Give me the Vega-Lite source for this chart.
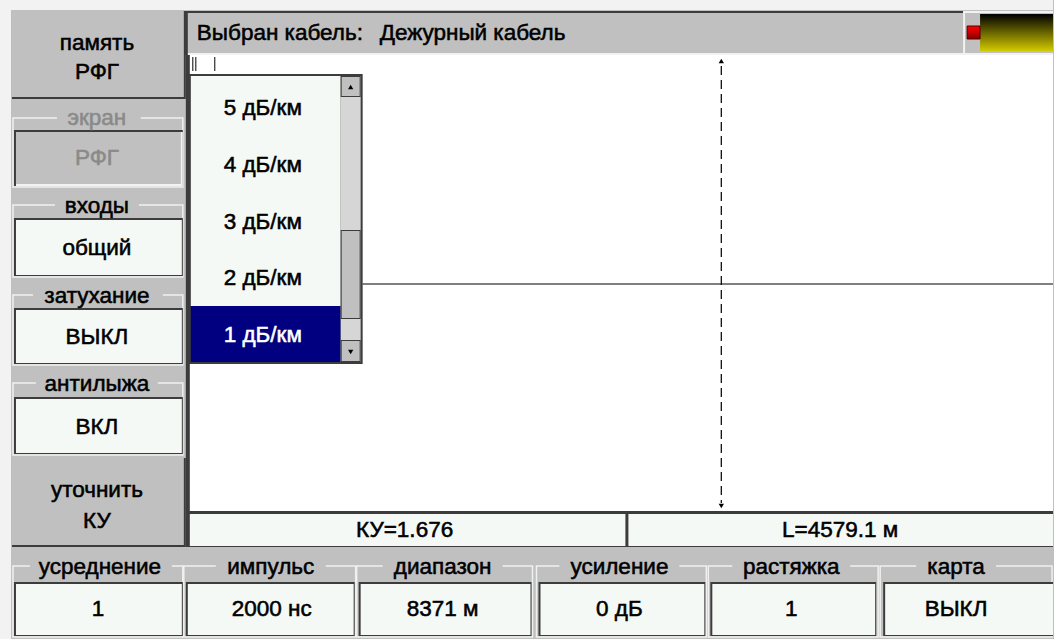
{
  "$schema": "https://vega.github.io/schema/vega-lite/v6.json",
  "width": 1054,
  "height": 639,
  "autosize": {"type": "fit", "contains": "padding"},
  "padding": 0,
  "background": "#c0c0c0",
  "config": {"view": {"stroke": null}},
  "resolve": {"scale": {"color": "independent", "stroke": "independent"}},
  "datasets": {
    "base": [
      {"x": 0, "x2": 1054, "y": 0, "y2": 10, "k": "light"},
      {"x": 0, "x2": 11, "y": 0, "y2": 639, "k": "light"},
      {"x": 12, "x2": 186, "y": 11, "y2": 99, "k": "dark"},
      {"x": 12, "x2": 184, "y": 11, "y2": 97, "k": "gray"},
      {"x": 12, "x2": 186, "y": 458, "y2": 547, "k": "dark"},
      {"x": 12, "x2": 184, "y": 458, "y2": 545, "k": "gray"},
      {"x": 185, "x2": 964, "y": 11, "y2": 55, "k": "dark"},
      {"x": 188, "x2": 964, "y": 13, "y2": 53, "k": "gray"},
      {"x": 188, "x2": 964, "y": 53, "y2": 55, "k": "light"},
      {"x": 964, "x2": 1054, "y": 11, "y2": 56, "k": "light"},
      {"x": 966, "x2": 1054, "y": 13, "y2": 53, "k": "gray"},
      {"x": 186, "x2": 1054, "y": 55, "y2": 547, "k": "dark"},
      {"x": 190, "x2": 1054, "y": 55, "y2": 511, "k": "white"},
      {"x": 190, "x2": 626, "y": 514, "y2": 546, "k": "field"},
      {"x": 629, "x2": 1054, "y": 514, "y2": 546, "k": "field"}
    ],
    "frames": [
      {"x": 13, "x2": 183, "y": 118, "y2": 187},
      {"x": 13, "x2": 183, "y": 205, "y2": 277},
      {"x": 13, "x2": 183, "y": 295, "y2": 365},
      {"x": 13, "x2": 183, "y": 383, "y2": 455},
      {"x": 13, "x2": 183, "y": 566, "y2": 637},
      {"x": 184, "x2": 356, "y": 566, "y2": 637},
      {"x": 357, "x2": 533, "y": 566, "y2": 637},
      {"x": 537, "x2": 707, "y": 566, "y2": 637},
      {"x": 709, "x2": 879, "y": 566, "y2": 637},
      {"x": 881, "x2": 1053, "y": 566, "y2": 637}
    ],
    "top": [
      {"x": 57, "x2": 141, "y": 108, "y2": 128, "k": "gray"},
      {"x": 55, "x2": 139, "y": 195, "y2": 216, "k": "gray"},
      {"x": 33, "x2": 163, "y": 285, "y2": 306, "k": "gray"},
      {"x": 36, "x2": 158, "y": 373, "y2": 395, "k": "gray"},
      {"x": 30, "x2": 172, "y": 556, "y2": 580, "k": "gray"},
      {"x": 216, "x2": 326, "y": 556, "y2": 580, "k": "gray"},
      {"x": 383, "x2": 503, "y": 556, "y2": 580, "k": "gray"},
      {"x": 560, "x2": 680, "y": 556, "y2": 580, "k": "gray"},
      {"x": 733, "x2": 851, "y": 556, "y2": 580, "k": "gray"},
      {"x": 917, "x2": 997, "y": 556, "y2": 580, "k": "gray"},
      {"x": 14, "x2": 183, "y": 130, "y2": 186, "k": "dark"},
      {"x": 16, "x2": 183, "y": 132, "y2": 186, "k": "light"},
      {"x": 16, "x2": 181, "y": 132, "y2": 184, "k": "gray"},
      {"x": 14, "x2": 183, "y": 218, "y2": 276, "k": "dark"},
      {"x": 16, "x2": 182, "y": 220, "y2": 275, "k": "field"},
      {"x": 14, "x2": 183, "y": 308, "y2": 364, "k": "dark"},
      {"x": 16, "x2": 182, "y": 310, "y2": 363, "k": "field"},
      {"x": 14, "x2": 183, "y": 397, "y2": 454, "k": "dark"},
      {"x": 16, "x2": 182, "y": 399, "y2": 453, "k": "field"},
      {"x": 14, "x2": 183, "y": 582, "y2": 636, "k": "dark"},
      {"x": 16, "x2": 182, "y": 584, "y2": 635, "k": "field"},
      {"x": 186, "x2": 355, "y": 582, "y2": 636, "k": "dark"},
      {"x": 188, "x2": 354, "y": 584, "y2": 635, "k": "field"},
      {"x": 359, "x2": 532, "y": 582, "y2": 636, "k": "dark"},
      {"x": 361, "x2": 531, "y": 584, "y2": 635, "k": "field"},
      {"x": 539, "x2": 706, "y": 582, "y2": 636, "k": "dark"},
      {"x": 541, "x2": 705, "y": 584, "y2": 635, "k": "field"},
      {"x": 711, "x2": 877, "y": 582, "y2": 636, "k": "dark"},
      {"x": 713, "x2": 876, "y": 584, "y2": 635, "k": "field"},
      {"x": 884, "x2": 1054, "y": 582, "y2": 636, "k": "dark"},
      {"x": 886, "x2": 1054, "y": 584, "y2": 635, "k": "field"},
      {"x": 189, "x2": 363, "y": 74, "y2": 364, "k": "dark"},
      {"x": 191, "x2": 341, "y": 76, "y2": 306, "k": "field"},
      {"x": 191, "x2": 341, "y": 306, "y2": 362, "k": "navy"},
      {"x": 341, "x2": 361, "y": 76, "y2": 362, "k": "track"},
      {"x": 341, "x2": 361, "y": 76, "y2": 97, "k": "dark"},
      {"x": 342, "x2": 360, "y": 77, "y2": 96, "k": "gray"},
      {"x": 341, "x2": 361, "y": 230, "y2": 319, "k": "dark"},
      {"x": 342, "x2": 360, "y": 231, "y2": 318, "k": "gray"},
      {"x": 341, "x2": 361, "y": 340, "y2": 362, "k": "dark"},
      {"x": 342, "x2": 360, "y": 341, "y2": 361, "k": "gray"}
    ],
    "meter": [{"x": 981, "x2": 1054, "y": 14, "y2": 51}],
    "alarm": [{"x": 968, "x2": 981, "y": 26, "y2": 39}],
    "rules": [
      {"x": 193, "x2": 193, "y": 57, "y2": 71},
      {"x": 196, "x2": 196, "y": 57, "y2": 71},
      {"x": 215, "x2": 215, "y": 57, "y2": 71},
      {"x": 363, "x2": 1054, "y": 284, "y2": 284}
    ],
    "cursor": [{"x": 722, "x2": 722, "y": 66, "y2": 503}],
    "arrows": [
      {"x": 351, "y": 87, "d": "up"},
      {"x": 351, "y": 352, "d": "down"},
      {"x": 722, "y": 61, "d": "up"},
      {"x": 722, "y": 506, "d": "down"}
    ],
    "texts": [
      {"x": 97, "y": 43, "t": "память", "tone": "ink"},
      {"x": 97, "y": 72, "t": "РФГ", "tone": "ink"},
      {"x": 97, "y": 118, "t": "экран", "tone": "dim"},
      {"x": 97, "y": 158, "t": "РФГ", "tone": "dim"},
      {"x": 97, "y": 206, "t": "входы", "tone": "ink"},
      {"x": 97, "y": 248, "t": "общий", "tone": "ink"},
      {"x": 97, "y": 296, "t": "затухание", "tone": "ink"},
      {"x": 97, "y": 337, "t": "ВЫКЛ", "tone": "ink"},
      {"x": 97, "y": 384, "t": "антилыжа", "tone": "ink"},
      {"x": 97, "y": 427, "t": "ВКЛ", "tone": "ink"},
      {"x": 97, "y": 490, "t": "уточнить", "tone": "ink"},
      {"x": 97, "y": 521, "t": "КУ", "tone": "ink"},
      {"x": 263, "y": 108, "t": "5 дБ/км", "tone": "ink"},
      {"x": 263, "y": 165, "t": "4 дБ/км", "tone": "ink"},
      {"x": 263, "y": 222, "t": "3 дБ/км", "tone": "ink"},
      {"x": 263, "y": 278, "t": "2 дБ/км", "tone": "ink"},
      {"x": 263, "y": 335, "t": "1 дБ/км", "tone": "inv"},
      {"x": 405, "y": 530, "t": "КУ=1.676", "tone": "ink"},
      {"x": 841, "y": 530, "t": "L=4579.1 м", "tone": "ink"},
      {"x": 100, "y": 567, "t": "усреднение", "tone": "ink"},
      {"x": 271, "y": 567, "t": "импульс", "tone": "ink"},
      {"x": 443, "y": 567, "t": "диапазон", "tone": "ink"},
      {"x": 620, "y": 567, "t": "усиление", "tone": "ink"},
      {"x": 792, "y": 567, "t": "растяжка", "tone": "ink"},
      {"x": 957, "y": 567, "t": "карта", "tone": "ink"},
      {"x": 98, "y": 609, "t": "1", "tone": "ink"},
      {"x": 272, "y": 609, "t": "2000 нс", "tone": "ink"},
      {"x": 443, "y": 609, "t": "8371 м", "tone": "ink"},
      {"x": 620, "y": 609, "t": "0 дБ", "tone": "ink"},
      {"x": 792, "y": 609, "t": "1", "tone": "ink"},
      {"x": 957, "y": 609, "t": "ВЫКЛ", "tone": "ink"}
    ],
    "header": [
      {"x": 197, "y": 33, "t": "Выбран кабель:"},
      {"x": 380, "y": 33, "t": "Дежурный кабель"}
    ]
  },
  "layer": [
    {
      "data": {"name": "base"},
      "mark": {"type": "rect"},
      "encoding": {
        "x": {"field": "x", "type": "quantitative", "scale": {"domain": [0, 1054], "nice": false, "zero": false}, "axis": null},
        "x2": {"field": "x2"},
        "y": {"field": "y", "type": "quantitative", "scale": {"domain": [0, 639], "nice": false, "zero": false, "reverse": true}, "axis": null},
        "y2": {"field": "y2"},
        "color": {"field": "k", "type": "nominal", "legend": null,
          "scale": {"domain": ["light", "gray", "dark", "field", "white", "navy", "track"],
                    "range": ["#f2f2f2", "#c0c0c0", "#3c3c3c", "#f5f9f5", "#ffffff", "#000080", "#d6d6d6"]}}
      }
    },
    {
      "data": {"name": "frames"},
      "mark": {"type": "rect", "filled": false, "stroke": "#f0f0f0", "strokeWidth": 1.5},
      "encoding": {
        "x": {"field": "x", "type": "quantitative", "scale": {"domain": [0, 1054], "nice": false, "zero": false}, "axis": null},
        "x2": {"field": "x2"},
        "y": {"field": "y", "type": "quantitative", "scale": {"domain": [0, 639], "nice": false, "zero": false, "reverse": true}, "axis": null},
        "y2": {"field": "y2"}
      }
    },
    {
      "data": {"name": "top"},
      "mark": {"type": "rect"},
      "encoding": {
        "x": {"field": "x", "type": "quantitative", "scale": {"domain": [0, 1054], "nice": false, "zero": false}, "axis": null},
        "x2": {"field": "x2"},
        "y": {"field": "y", "type": "quantitative", "scale": {"domain": [0, 639], "nice": false, "zero": false, "reverse": true}, "axis": null},
        "y2": {"field": "y2"},
        "color": {"field": "k", "type": "nominal", "legend": null,
          "scale": {"domain": ["light", "gray", "dark", "field", "white", "navy", "track"],
                    "range": ["#f2f2f2", "#c0c0c0", "#3c3c3c", "#f5f9f5", "#ffffff", "#000080", "#d6d6d6"]}}
      }
    },
    {
      "data": {"name": "meter"},
      "mark": {"type": "rect", "color": {"gradient": "linear", "x1": 0, "y1": 0, "x2": 0, "y2": 1,
        "stops": [{"offset": 0, "color": "#000000"}, {"offset": 1, "color": "#d2ca00"}]}},
      "encoding": {
        "x": {"field": "x", "type": "quantitative", "scale": {"domain": [0, 1054], "nice": false, "zero": false}, "axis": null},
        "x2": {"field": "x2"},
        "y": {"field": "y", "type": "quantitative", "scale": {"domain": [0, 639], "nice": false, "zero": false, "reverse": true}, "axis": null},
        "y2": {"field": "y2"}
      }
    },
    {
      "data": {"name": "alarm"},
      "mark": {"type": "rect", "stroke": "#500000", "strokeWidth": 1, "color": {"gradient": "linear", "x1": 0, "y1": 0, "x2": 0, "y2": 1,
        "stops": [{"offset": 0, "color": "#ff0000"}, {"offset": 1, "color": "#8a0000"}]}},
      "encoding": {
        "x": {"field": "x", "type": "quantitative", "scale": {"domain": [0, 1054], "nice": false, "zero": false}, "axis": null},
        "x2": {"field": "x2"},
        "y": {"field": "y", "type": "quantitative", "scale": {"domain": [0, 639], "nice": false, "zero": false, "reverse": true}, "axis": null},
        "y2": {"field": "y2"}
      }
    },
    {
      "data": {"name": "rules"},
      "mark": {"type": "rule", "color": "#000000", "strokeWidth": 1},
      "encoding": {
        "x": {"field": "x", "type": "quantitative", "scale": {"domain": [0, 1054], "nice": false, "zero": false}, "axis": null},
        "x2": {"field": "x2"},
        "y": {"field": "y", "type": "quantitative", "scale": {"domain": [0, 639], "nice": false, "zero": false, "reverse": true}, "axis": null},
        "y2": {"field": "y2"}
      }
    },
    {
      "data": {"name": "cursor"},
      "mark": {"type": "rule", "color": "#101010", "strokeWidth": 1.3, "strokeDash": [9, 5]},
      "encoding": {
        "x": {"field": "x", "type": "quantitative", "scale": {"domain": [0, 1054], "nice": false, "zero": false}, "axis": null},
        "x2": {"field": "x2"},
        "y": {"field": "y", "type": "quantitative", "scale": {"domain": [0, 639], "nice": false, "zero": false, "reverse": true}, "axis": null},
        "y2": {"field": "y2"}
      }
    },
    {
      "data": {"name": "arrows"},
      "mark": {"type": "point", "filled": true, "color": "#000000", "size": 28, "opacity": 1},
      "encoding": {
        "x": {"field": "x", "type": "quantitative", "scale": {"domain": [0, 1054], "nice": false, "zero": false}, "axis": null},
        "y": {"field": "y", "type": "quantitative", "scale": {"domain": [0, 639], "nice": false, "zero": false, "reverse": true}, "axis": null},
        "shape": {"field": "d", "type": "nominal", "legend": null,
          "scale": {"domain": ["up", "down"], "range": ["triangle-up", "triangle-down"]}}
      }
    },
    {
      "data": {"name": "texts"},
      "mark": {"type": "text", "align": "center", "baseline": "middle", "font": "Liberation Sans", "fontSize": 22.5, "strokeWidth": 0.55},
      "encoding": {
        "x": {"field": "x", "type": "quantitative", "scale": {"domain": [0, 1054], "nice": false, "zero": false}, "axis": null},
        "y": {"field": "y", "type": "quantitative", "scale": {"domain": [0, 639], "nice": false, "zero": false, "reverse": true}, "axis": null},
        "text": {"field": "t", "type": "nominal"},
        "color": {"field": "tone", "type": "nominal", "legend": null,
          "scale": {"domain": ["ink", "dim", "inv"], "range": ["#000000", "#8a8a8a", "#ffffff"]}},
        "stroke": {"field": "tone", "type": "nominal", "legend": null,
          "scale": {"domain": ["ink", "dim", "inv"], "range": ["#000000", "#8a8a8a", "#ffffff"]}}
      }
    },
    {
      "data": {"name": "header"},
      "mark": {"type": "text", "align": "left", "baseline": "middle", "font": "Liberation Sans", "fontSize": 22.5, "color": "#000000", "stroke": "#000000", "strokeWidth": 0.55},
      "encoding": {
        "x": {"field": "x", "type": "quantitative", "scale": {"domain": [0, 1054], "nice": false, "zero": false}, "axis": null},
        "y": {"field": "y", "type": "quantitative", "scale": {"domain": [0, 639], "nice": false, "zero": false, "reverse": true}, "axis": null},
        "text": {"field": "t", "type": "nominal"}
      }
    }
  ]
}
